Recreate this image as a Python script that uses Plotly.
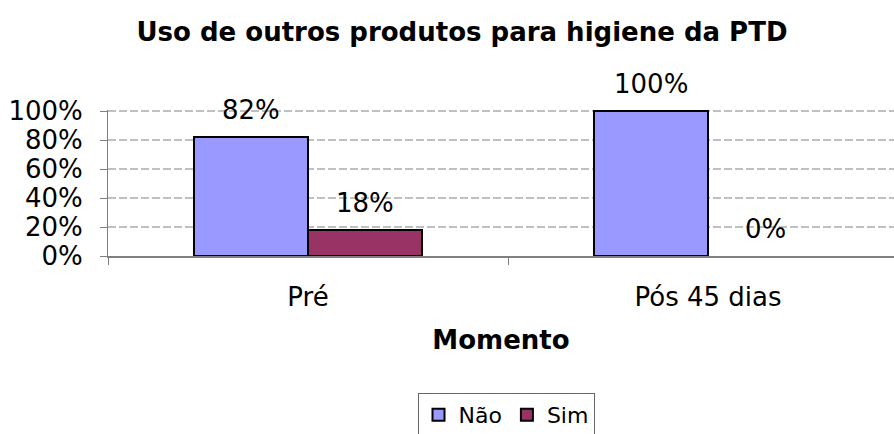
import plotly.graph_objects as go

categories = ["Pré", "Pós 45 dias"]
nao_values = [0.82, 1.00]
sim_values = [0.18, 0.00]
nao_labels = ["82%", "100%"]
sim_labels = ["18%", "0%"]
y_ticks = [0, 0.2, 0.4, 0.6, 0.8, 1.0]
y_tick_labels = ["0%", "20%", "40%", "60%", "80%", "100%"]

FONT = "DejaVu Sans, Verdana, sans-serif"


def border_widths(values):
    return [2 if v > 0 else 0 for v in values]


fig = go.Figure()
fig.add_trace(go.Bar(name="Não", x=categories, y=nao_values,
                     marker=dict(color="#9999FF",
                                 line=dict(color="black", width=border_widths(nao_values)))))
fig.add_trace(go.Bar(name="Sim", x=categories, y=sim_values,
                     marker=dict(color="#993366",
                                 line=dict(color="black", width=border_widths(sim_values)))))

annotations = []
for i, cat in enumerate(categories):
    annotations.append(dict(x=cat, y=nao_values[i], text=nao_labels[i], xref="x", yref="y",
                            showarrow=False, xshift=-57, yshift=27, yanchor="middle",
                            font=dict(size=26, color="black", family=FONT)))
    annotations.append(dict(x=cat, y=sim_values[i], text=sim_labels[i], xref="x", yref="y",
                            showarrow=False, xshift=57, yshift=27, yanchor="middle",
                            font=dict(size=26, color="black", family=FONT)))

fig.update_layout(
    width=894, height=434,
    margin=dict(l=108, r=0, t=110, b=178),
    paper_bgcolor="white", plot_bgcolor="white",
    font=dict(family=FONT, size=26, color="black"),
    barmode="group", bargap=0.43, bargroupgap=0,
    title=dict(text="<b>Uso de outros produtos para higiene da PTD</b>",
               x=462 / 894, xref="container", xanchor="center",
               y=1 - 32 / 434, yref="container", yanchor="middle",
               font=dict(size=26, family=FONT, color="black")),
    xaxis=dict(type="category", categoryorder="array", categoryarray=categories,
               range=[-0.5, 1.465], showgrid=False, showline=True, linecolor="#808080",
               linewidth=2, ticks="outside", tickson="boundaries", ticklen=7,
               tickcolor="#808080", tickwidth=1, ticklabelstandoff=17,
               tickfont=dict(size=26), automargin=False,
               title=dict(text="<b>Momento</b>", standoff=20, font=dict(size=26))),
    yaxis=dict(range=[0, 1.007], tickvals=y_ticks, ticktext=y_tick_labels,
               showgrid=True, gridcolor="#C0C0C0", gridwidth=2, griddash="8px,3px",
               showline=True, linecolor="#808080", linewidth=1,
               ticks="outside", ticklen=7, tickcolor="#808080", ticklabelstandoff=12,
               tickfont=dict(size=26), zeroline=False, automargin=False),
    legend=dict(orientation="h", xref="container", yref="container",
                x=506 / 894, xanchor="center", y=1 - 393 / 434, yanchor="top",
                bordercolor="#666666", borderwidth=1, font=dict(size=22),
                itemwidth=30, tracegroupgap=0),
    annotations=annotations,
    showlegend=True,
)

fig.write_html("out.html", config={"displayModeBar": False},
               post_script="document.body.style.margin='0px';document.body.style.overflow='hidden';")
